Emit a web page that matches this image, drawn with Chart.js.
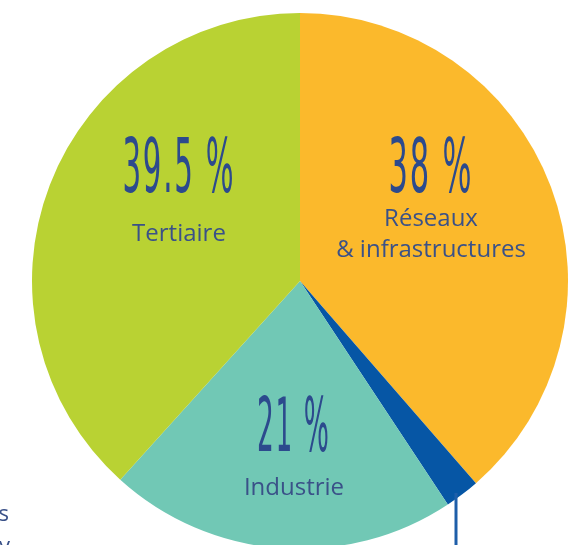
<!DOCTYPE html>
<html>
<head>
<meta charset="utf-8">
<script src="https://cdn.jsdelivr.net/npm/chart.js@4"></script>
<style>
  html, body { margin: 0; padding: 0; background: #fff; overflow: hidden; }
  #wrap { position: absolute; left: 0; top: 0; width: 582px; height: 560px; }
</style>
</head>
<body>
<div id="wrap"><canvas id="pieChart"></canvas></div>
<script>
// slices, clockwise from 12 o'clock
const categories = ['Réseaux & infrastructures', 'Autres', 'Industrie', 'Tertiaire'];
const shares = [38.6, 2.1, 21.0, 38.3];
const shareLabels = ['38 %', '', '21 %', '39.5 %'];
const nameLines = [['Réseaux', '& infrastructures'], [], ['Industrie'], ['Tertiaire']];
const sliceColors = ['#fbb92c', '#0656a5', '#71c8b5', '#b9d233'];

// label anchors, offset from pie centre (px)
const labelSpots = [
  { x: 130, y: -89, w: 83, nameY: [-55, -24] },
  null,
  { x: -7, y: 170, w: 72, nameY: [214] },
  { x: -122, y: -89, w: 111, nameY: [-40] }
];

const inkBlue = '#2c4a8d';

const labelPlugin = {
  id: 'sliceLabels',
  afterDraw(chart) {
    const ctx = chart.ctx;
    const arc = chart.getDatasetMeta(0).data[0];
    const cx = arc.x, cy = arc.y, r = arc.outerRadius;
    ctx.save();
    ctx.textBaseline = 'alphabetic';
    labelSpots.forEach((s, i) => {
      if (!s) return;
      // big condensed percentage
      ctx.font = '74px "DejaVu Sans Condensed", "DejaVu Sans", sans-serif';
      ctx.letterSpacing = '4px';
      ctx.textAlign = 'left';
      ctx.fillStyle = inkBlue;
      const txt = shareLabels[i];
      const mw = ctx.measureText(txt).width - 4;
      const sx = s.w / mw;
      ctx.save();
      ctx.translate(cx + s.x - s.w / 2, cy + s.y);
      ctx.scale(sx, 1);
      ctx.fillText(txt, 0, 0);
      ctx.restore();
      ctx.letterSpacing = '0px';
      // category name
      ctx.font = '24px "Open Sans", sans-serif';
      ctx.fillStyle = '#3a5188';
      ctx.textAlign = 'center';
      nameLines[i].forEach((line, k) => {
        ctx.fillText(line, cx + s.x + 1, cy + s.nameY[k]);
      });
    });

    // leader line from the small slice
    const lx = 456;
    const ly = cy + Math.sqrt(r * r - (lx - cx) * (lx - cx)) - 6;
    ctx.strokeStyle = '#1e5ea9';
    ctx.lineWidth = 3;
    ctx.beginPath();
    ctx.moveTo(lx, ly);
    ctx.lineTo(lx, chart.height);
    ctx.stroke();

    // cut-off label at the left edge
    ctx.font = '22px "Open Sans", sans-serif';
    ctx.fillStyle = '#3a5188';
    ctx.textAlign = 'right';
    ctx.fillText('s', 9, 521);
    ctx.fillText('y', 10, 553);
    ctx.restore();
  }
};

new Chart(document.getElementById('pieChart'), {
  type: 'pie',
  data: {
    labels: categories,
    datasets: [{
      data: shares,
      backgroundColor: sliceColors,
      borderWidth: 0,
      hoverOffset: 0
    }]
  },
  options: {
    responsive: true,
    maintainAspectRatio: false,
    animation: false,
    events: [],
    layout: { padding: { left: 32, right: 14, top: 13, bottom: 11 } },
    plugins: {
      legend: { display: false },
      tooltip: { enabled: false }
    }
  },
  plugins: [labelPlugin]
});
</script>
</body>
</html>
